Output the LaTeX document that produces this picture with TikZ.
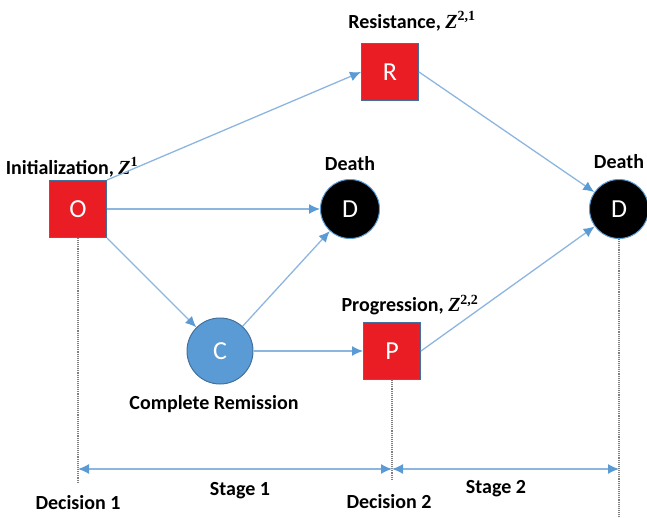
\documentclass[tikz,border=0pt]{standalone}
\usepackage{fontspec}
\setmainfont{Carlito}
\newfontfamily\zfont{Liberation Serif}
\usetikzlibrary{arrows.meta,positioning,calc}
\definecolor{boxred}{RGB}{234,28,36}
\definecolor{edgeblue}{RGB}{65,113,156}
\definecolor{fillblue}{RGB}{91,155,213}
\definecolor{lineblue}{RGB}{140,182,224}
\newcommand{\zvar}[1]{{\zfont\bfseries\itshape Z}\textsuperscript{\zfont\bfseries #1}}

\begin{document}
\begin{tikzpicture}[x=1pt,y=-1pt,
  sq/.style={draw=edgeblue,line width=1pt,fill=boxred,text=white,minimum size=57pt,inner sep=0pt,font=\fontsize{26}{28}\selectfont},
  dead/.style={circle,draw=fillblue,line width=1pt,fill=black,text=white,minimum size=59pt,inner sep=0pt,font=\fontsize{26}{28}\selectfont},
  cr/.style={circle,draw=edgeblue,line width=1pt,fill=fillblue,text=white,minimum size=66pt,inner sep=0pt,font=\fontsize{26}{28}\selectfont},
  lab/.style={font=\bfseries\fontsize{20}{22}\selectfont,inner sep=1pt},
  conn/.style={draw=lineblue,line width=1.3pt,-{Latex[length=11pt,width=10pt,color=fillblue]}},
  span/.style={draw=lineblue,line width=1.3pt,{Latex[length=11pt,width=10pt,color=fillblue]}-{Latex[length=11pt,width=10pt,color=fillblue]}},
  guide/.style={draw=gray,densely dotted,line width=1.1pt}]
\useasboundingbox (0,0) rectangle (647,518);
% states
\node[sq] (O) at (78,209) {O};
\node[sq] (R) at (390,72) {R};
\node[sq] (P) at (392,351) {P};
\node[dead] (D1) at (350,209) {D};
\node[dead] (D2) at (619,209) {D};
\node[cr] (C) at (220,351) {C};
% labels
\node[lab] (lO) at (72,167) {Initialization, \zvar{1}};
\node[lab] (lR) at (412,21) {Resistance, \zvar{2,1}};
\node[lab] (lP) at (410,305) {Progression, \zvar{2,2}};
\node[lab] (lD1) at (350,164) {Death};
\node[lab] (lD2) at (619,162) {Death};
\node[lab] (lC) at (214,404) {Complete Remission};
% transitions
\draw[conn] (O.north east) -- (R.west);
\draw[conn] (O) -- (D1);
\draw[conn] (O.south east) -- (C);
\draw[conn] (C) -- (D1);
\draw[conn] (C) -- (P);
\draw[conn] (R.east) -- (D2);
\draw[conn] (P.east) -- (D2);
% time line
\coordinate (e1) at (O.south |- 0,482);
\coordinate (e2) at (P.south |- 0,480);
\coordinate (e3) at (D2.south |- 0,518);
\draw[guide] (O.south) -- (e1);
\draw[guide] (P.south) -- (e2);
\draw[guide] (D2.south) -- (e3);
\coordinate (s1) at (O.south |- 0,469);
\coordinate (s2) at (P.south |- 0,469);
\coordinate (s3) at (D2.south |- 0,469);
\draw[span] (s1) -- (s2);
\draw[span] (s2) -- (s3);
\node[lab] (dec1) at (78,503) {Decision 1};
\node[lab] (st1) at (240,491) {Stage 1};
\node[lab] (dec2) at (389,502) {Decision 2};
\node[lab] (st2) at (496,489) {Stage 2};
\end{tikzpicture}
\end{document}
